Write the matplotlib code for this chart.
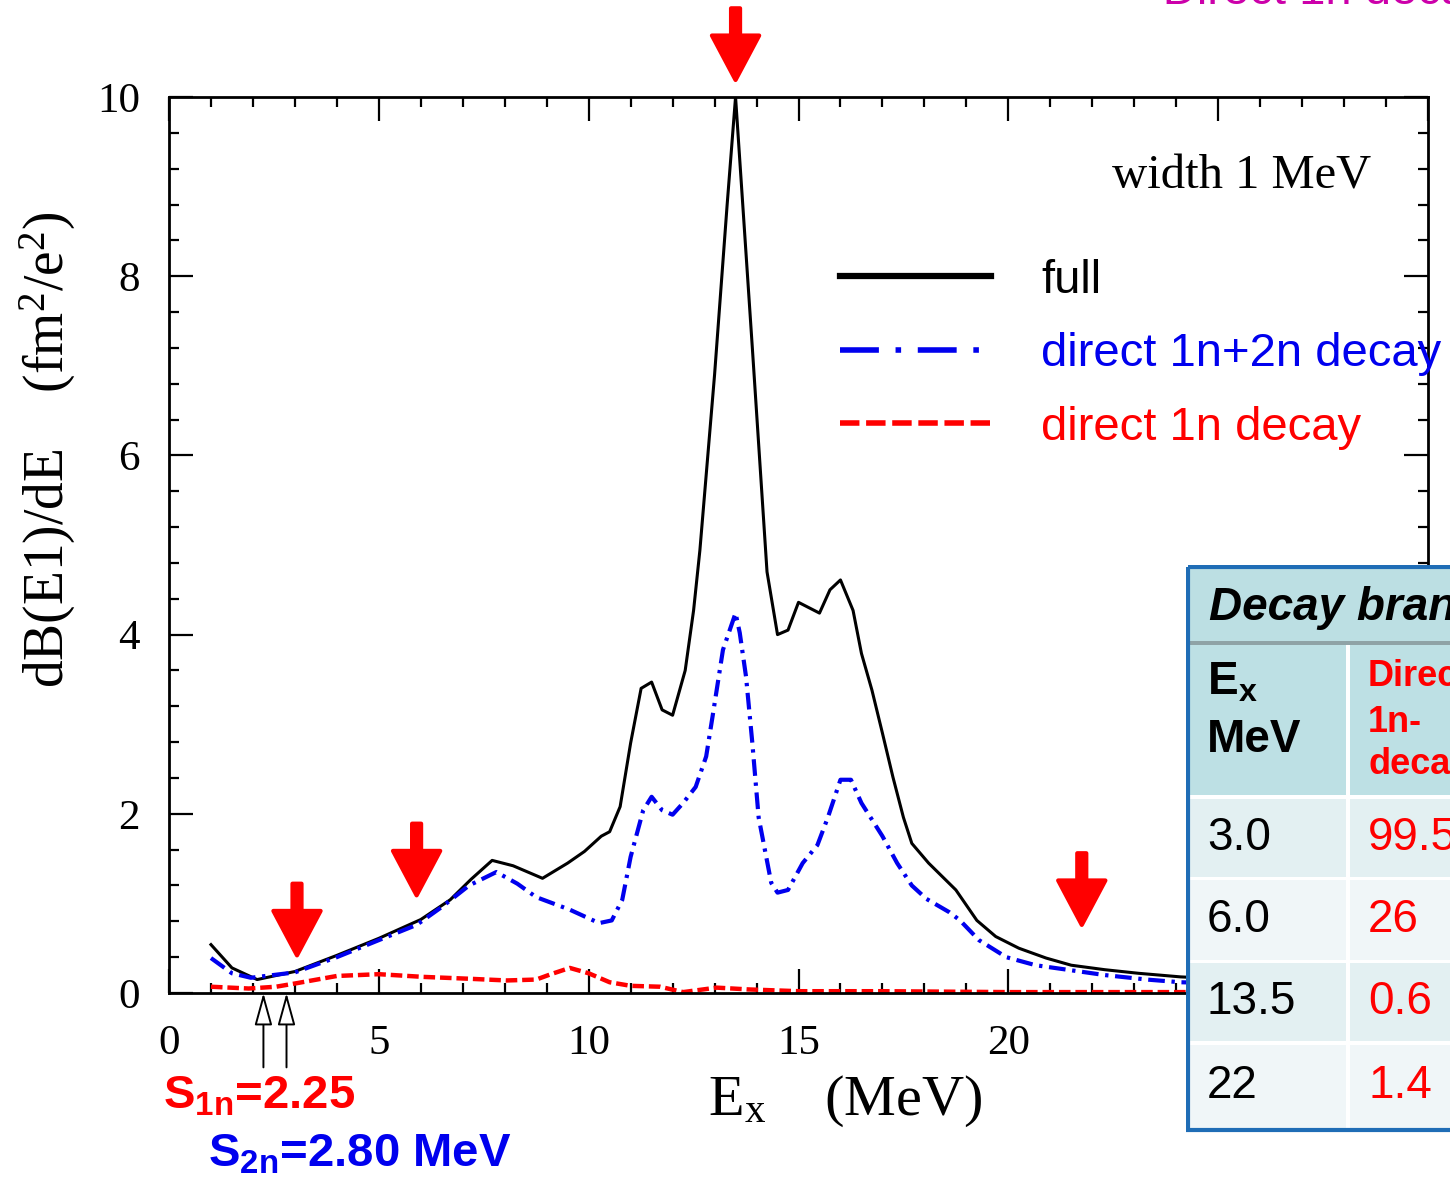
import matplotlib.pyplot as plt
from matplotlib.lines import Line2D
from matplotlib.patches import Rectangle
from matplotlib.ticker import MultipleLocator

plt.rcParams['font.family'] = ['Liberation Serif', 'DejaVu Serif']
plt.rcParams['mathtext.default'] = 'regular'

# full strength
E_full = [1.0, 1.5, 2.1, 3.0, 4.0, 5.0, 6.0, 6.7, 7.2, 7.7, 8.2, 8.9, 9.5, 9.9,
          10.3, 10.5, 10.75, 11.0, 11.25, 11.5, 11.75, 12.0, 12.3, 12.5, 12.65,
          13.0, 13.3, 13.5, 13.9, 14.25, 14.5, 14.75, 15.0, 15.5, 15.75, 16.0,
          16.3, 16.5, 16.75, 17.0, 17.25, 17.5, 17.7, 18.1, 18.75, 19.25, 19.7,
          20.25, 20.9, 21.5, 22.3, 23.1, 24.1, 25.0]
dB_full = [0.54, 0.28, 0.15, 0.24, 0.42, 0.61, 0.82, 1.04, 1.27, 1.48, 1.42, 1.28,
           1.45, 1.58, 1.75, 1.80, 2.08, 2.79, 3.40, 3.47, 3.16, 3.10, 3.60, 4.27,
           4.94, 6.9, 8.8, 10.0, 7.2, 4.7, 4.0, 4.05, 4.36, 4.24, 4.50, 4.61, 4.27,
           3.79, 3.38, 2.90, 2.41, 1.96, 1.67, 1.45, 1.15, 0.81, 0.63, 0.50, 0.39,
           0.31, 0.26, 0.22, 0.18, 0.16]

# direct 1n+2n decay
E_12n = [1.0, 1.5, 1.95, 3.0, 4.0, 5.0, 5.9, 6.5, 7.15, 7.8, 8.3, 8.75, 9.55,
         10.25, 10.55, 10.8, 11.0, 11.3, 11.5, 11.75, 12.0, 12.25, 12.55, 12.8,
         12.95, 13.2, 13.5, 13.6, 13.75, 13.9, 14.05, 14.35, 14.5, 14.75, 15.1,
         15.45, 15.7, 16.0, 16.25, 16.5, 17.0, 17.35, 17.7, 18.05, 18.6, 18.85,
         19.3, 19.95, 20.65, 21.4, 22.3, 23.3, 24.1, 25.0]
dB_12n = [0.39, 0.22, 0.17, 0.23, 0.40, 0.59, 0.76, 0.96, 1.20, 1.35, 1.22, 1.07,
          0.93, 0.78, 0.81, 1.04, 1.52, 2.04, 2.19, 2.04, 1.99, 2.12, 2.30, 2.64,
          3.08, 3.83, 4.24, 4.02, 3.53, 2.79, 1.96, 1.23, 1.12, 1.15, 1.45, 1.65,
          1.96, 2.38, 2.38, 2.12, 1.75, 1.45, 1.20, 1.05, 0.90, 0.81, 0.59, 0.40,
          0.31, 0.26, 0.20, 0.15, 0.12, 0.11]

# direct 1n decay
E_1n = [1.0, 1.9, 2.55, 3.05, 4.0, 5.0, 6.05, 7.1, 8.05, 8.75, 9.1, 9.55, 10.0,
        10.5, 11.0, 11.7, 12.25, 13.05, 13.8, 15.0, 17.0, 20.0, 25.0]
dB_1n = [0.07, 0.05, 0.07, 0.11, 0.19, 0.21, 0.18, 0.16, 0.14, 0.15, 0.21, 0.28,
         0.22, 0.12, 0.08, 0.07, 0.01, 0.06, 0.04, 0.02, 0.02, 0.01, 0.01]

arrow_E = [3.05, 5.9, 13.5, 21.75]
arrow_tip = [0.42, 1.09, 10.19, 0.76]

S_E = [2.25, 2.80]

tab_Ex = ['3.0', '6.0', '13.5', '22']
tab_1n = ['99.5', '26', '0.6', '1.4']

W, H = 1450, 1181


def fx(px):
    return px / W


def fy(py):
    return 1 - py / H


fig = plt.figure(figsize=(14.5, 11.81), dpi=100)
ax = fig.add_axes([fx(169), fy(993), fx(1428) - fx(169), fy(97) - fy(993)])

ax.plot(E_full, dB_full, color='black', lw=2.2)
ax.plot(E_12n, dB_12n, color='#0000ee', lw=3, dashes=(4, 1.6, 0.8, 1.6))
ax.plot(E_1n, dB_1n, color='#ff0000', lw=3.2, dashes=(2.6, 1.1))

ax.set_xlim(0, 30)
ax.set_ylim(0, 10)
ax.xaxis.set_major_locator(MultipleLocator(5))
ax.xaxis.set_minor_locator(MultipleLocator(1))
ax.yaxis.set_major_locator(MultipleLocator(2))
ax.yaxis.set_minor_locator(MultipleLocator(0.4))
ax.tick_params(which='both', direction='in', top=True, right=True, width=1.6)
ax.tick_params(which='major', length=17)
ax.tick_params(which='minor', length=7)
ax.tick_params(axis='x', pad=23, labelsize=31)
ax.tick_params(axis='y', pad=21, labelsize=31)
for s in ax.spines.values():
    s.set_linewidth(2)

ax.set_xlabel(r'E$_x$    (MeV)', fontsize=42)
ax.xaxis.set_label_coords(0.537, -0.09)
ax.text(-0.0961, 0.606, r'dB(E1)/dE    (fm$^2$/e$^2$)', fontsize=40,
        rotation=90, ha='center', va='center', transform=ax.transAxes)

ax.text(28.65, 8.98, 'width 1 MeV', ha='right', va='baseline', fontsize=35)

# legend
h1 = Line2D([], [], color='black', lw=4.5)
h2 = Line2D([], [], color='#0000ee', lw=4, dashes=(7, 3, 1, 3))
h3 = Line2D([], [], color='#ff0000', lw=4, dashes=(3.5, 1.2))
ax.legend([h1, h2, h3], ['full', 'direct 1n+2n decay', 'direct 1n decay'],
          loc='upper left', bbox_to_anchor=(fx(840), fy(259)),
          bbox_transform=fig.transFigure, frameon=False,
          prop={'family': 'Liberation Sans', 'size': 34},
          handlelength=3.2, handletextpad=1.06, labelspacing=0.62,
          borderpad=0, borderaxespad=0,
          labelcolor=['black', '#0000ee', '#ff0000'])

# red arrows
for x, tip in zip(arrow_E, arrow_tip):
    ax.annotate('', xy=(x, tip), xytext=(x, tip + 0.8),
                arrowprops=dict(arrowstyle='simple,head_length=3.2,head_width=3.4,tail_width=0.65',
                                mutation_scale=10, fc='#ff0000', ec='#ff0000', lw=3,
                                joinstyle='round', shrinkA=0, shrinkB=0),
                annotation_clip=False)

# thresholds
for x in S_E:
    ax.annotate('', xy=(x, 0), xytext=(x, -0.83),
                arrowprops=dict(arrowstyle='-|>,head_length=2.0,head_width=0.55',
                                mutation_scale=10, fc='white', ec='black', lw=1.4,
                                shrinkA=0, shrinkB=0),
                annotation_clip=False)

fig.text(fx(163), fy(1108), r'S$_{1n}$=2.25', color='#ff0000', fontweight='bold',
         family='Liberation Sans', fontsize=34, va='baseline')
fig.text(fx(208), fy(1166), r'S$_{2n}$=2.80 MeV', color='#0000ee', fontweight='bold',
         family='Liberation Sans', fontsize=34, va='baseline')

fig.text(fx(1120), fy(4), u'\u2022  Direct 1n decay', color='#cc00aa',
         family='Liberation Sans', fontsize=34, va='baseline')

# table overlay
tab = fig.add_axes([fx(1186), fy(1133), fx(1450) - fx(1186), fy(565) - fy(1133)])
tab.set_xlim(1186, 1450)
tab.set_ylim(1133, 565)
tab.axis('off')
tab.add_patch(Rectangle((1186, 565), 300, 568, fc='white', ec='none'))
tab.add_patch(Rectangle((1189, 568), 300, 73, fc='#bcdfe3', ec='none'))
tab.add_patch(Rectangle((1189, 641), 300, 4, fc='#8fa3a6', ec='none'))
tab.add_patch(Rectangle((1189, 645), 157, 150, fc='#bde0e4', ec='none'))
tab.add_patch(Rectangle((1350, 645), 140, 150, fc='#bde0e4', ec='none'))
row_top = [799, 880, 963, 1045]
row_bot = [877, 960, 1041, 1128]
row_col = ['#e3f0f2', '#f0f6f8', '#e3f0f2', '#f0f6f8']
for t, b, c in zip(row_top, row_bot, row_col):
    tab.add_patch(Rectangle((1189, t), 157, b - t, fc=c, ec='none'))
    tab.add_patch(Rectangle((1350, t), 140, b - t, fc=c, ec='none'))
tab.add_patch(Rectangle((1188, 567), 300, 563, fc='none', ec='#1f6db6', lw=3))

tab.text(1209, 608, 'Decay branching ratio (%)', fontsize=33, fontweight='bold',
         style='italic', family='Liberation Sans', va='center', clip_on=True)
tab.text(1207, 683, r'E$_x$', fontsize=33, fontweight='bold',
         family='Liberation Sans', va='center', clip_on=True)
tab.text(1207, 740, 'MeV', fontsize=33, fontweight='bold',
         family='Liberation Sans', va='center', clip_on=True)
for yy, s in zip([677, 722, 765], ['Direct', '1n-', 'decay']):
    tab.text(1368, yy, s, fontsize=26, fontweight='bold', color='#ff0000',
             family='Liberation Sans', va='center', clip_on=True)
row_mid = [(t + b) / 2 for t, b in zip(row_top, row_bot)]
for yy, a, b in zip(row_mid, tab_Ex, tab_1n):
    tab.text(1207, yy, a, fontsize=33, family='Liberation Sans', va='center',
             clip_on=True)
    tab.text(1368, yy, b, fontsize=33, family='Liberation Sans', color='#ff0000',
             va='center', clip_on=True)

fig.savefig('out.png', dpi=100)
